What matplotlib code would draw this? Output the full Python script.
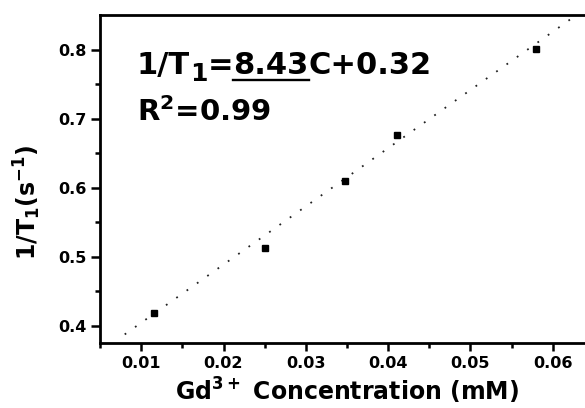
import numpy as np
import matplotlib
matplotlib.use("Agg")
import matplotlib.pyplot as plt

plt.rcParams['font.family'] = ['DejaVu Sans']
plt.rcParams['font.weight'] = 'bold'
plt.rcParams['mathtext.fontset'] = 'dejavusans'
plt.rcParams['mathtext.default'] = 'bf'

# relaxation rate vs Gd concentration
conc = [0.0115, 0.0250, 0.0347, 0.0411, 0.0580]   # mM
rate = [0.419, 0.512, 0.610, 0.676, 0.801]        # 1/T1 (s^-1)

slope = 8.43
intercept = 0.32
r2 = 0.99
fit_range = [0.008, 0.0625]

fig = plt.figure(figsize=(5.85, 4.08), dpi=100)
ax = fig.add_axes([100/585, 1 - 343/408, 494/585, 328/408])

xfit = np.array(fit_range)
ax.plot(xfit, slope*xfit + intercept, color='#222222', lw=1.3,
        linestyle=(0, (1, 6)))
ax.plot(conc, rate, 's', color='black', markersize=5)

ax.set_xlim(0.005, 0.065)
ax.set_ylim(0.375, 0.85)
ax.set_xticks([0.01, 0.02, 0.03, 0.04, 0.05, 0.06])
ax.set_xticks(np.arange(0.005, 0.065, 0.01), minor=True)
ax.set_yticks([0.4, 0.5, 0.6, 0.7, 0.8])
ax.set_yticks([0.45, 0.55, 0.65, 0.75], minor=True)

for s in ax.spines.values():
    s.set_linewidth(2)
ax.tick_params(which='major', direction='out', length=6.5, width=1.8,
               labelsize=11.5, pad=3)
ax.tick_params(which='minor', direction='out', length=3.5, width=1.8)
ax.tick_params(axis='x', which='major', length=5.5, pad=4)

ax.set_xlabel(r'Gd$^{3+}$ Concentration (mM)', fontsize=17, fontweight='bold')
ax.set_ylabel(r'1/T$_1$(s$^{-1}$)', fontsize=17, fontweight='bold')
ax.xaxis.set_label_coords(0.5, -0.10)
ax.yaxis.set_label_coords(-0.115, 0.43)

# fit equation, written piece by piece so the slope can be underlined
fig.canvas.draw()
rend = fig.canvas.get_renderer()
inv = ax.transAxes.inverted()
px_y = 1/328
y_eq = 1 - (74 - 15)*px_y
x0 = (137 - 100)/494
fs = 22


def put(x, y, s, size=fs):
    t = ax.text(x, y, s, transform=ax.transAxes, fontsize=size,
                fontweight='bold', va='baseline')
    bb = t.get_window_extent(rend)
    return inv.transform((bb.x1, 0))[0]


x = put(x0, y_eq, '1/T')
x = put(x, y_eq - 7*px_y, '1', size=18)
x = put(x, y_eq, '=')
x_ul0 = x
x = put(x, y_eq, f'{slope:.2f}')
x_ul1 = x
put(x, y_eq, f'C+{intercept:.2f}')
ul_y = y_eq - 6*px_y
ax.plot([x_ul0, x_ul1], [ul_y, ul_y], color='black', lw=1.7,
        transform=ax.transAxes, clip_on=False)

y_r2 = 1 - (121 - 15)*px_y
ax.text(x0, y_r2, f'R$^2$={r2:.2f}', transform=ax.transAxes, fontsize=21,
        fontweight='bold', va='baseline')

fig.savefig('out.png', dpi=100)
